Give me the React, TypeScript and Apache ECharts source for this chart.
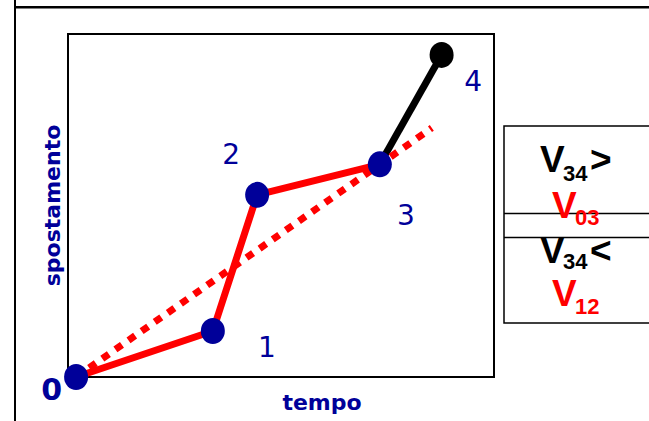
import React, { useEffect, useRef } from "react";
import * as echarts from "echarts";

// ---- data ----
const pointLabels = ["0", "1", "2", "3", "4"];
const timeValues = [0.19, 3.4, 4.44, 7.32, 8.77];
const displacementValues = [0, 1.34, 5.31, 6.2, 9.39];
// dotted "average" line: from point 0 through point 3, extended
const averageLineEndTime = 8.54;
const averageLineEndDisplacement = 7.26;
const xAxisName = "tempo";
const yAxisName = "spostamento";
const comparisonRows = [
  { base: "V", sub: "34", tail: ">" },
  { base: "V", sub: "03", tail: "" },
  { base: "V", sub: "34", tail: "<" },
  { base: "V", sub: "12", tail: "" },
];

// ---- styles / layout ----
const BLUE = "#000099";
const RED = "#ff0000";
const labelOffsets = [
  [-24.5, 12],
  [54, 16.5],
  [-26, -40],
  [26, 51.5],
  [31.5, 27],
];
const ELLIPSE = "path://M0,1A1,1 0 1,1 2,1A1,1 0 1,1 0,1Z";

export default function App() {
  const ref = useRef<HTMLDivElement>(null);

  useEffect(() => {
    if (!ref.current) return;
    const chart = echarts.init(ref.current, undefined, { renderer: "svg" });

    const pts = timeValues.map((t, i) => [t, displacementValues[i]]);

    // table text pieces
    const rowLayout = [
      { x: 540, y: 159.5, subY: 173, color: "#000000" },
      { x: 552, y: 205, subY: 217, color: RED },
      { x: 540, y: 250, subY: 261, color: "#000000" },
      { x: 552, y: 293, subY: 306, color: RED },
    ];
    const bigFont = "bold 37px 'Liberation Sans', Arial, sans-serif";
    const subFont = "bold 22px 'Liberation Sans', Arial, sans-serif";
    const tableTexts: any[] = [];
    comparisonRows.forEach((r, i) => {
      const l = rowLayout[i];
      tableTexts.push({
        type: "text",
        x: l.x,
        y: l.y,
        style: {
          text: r.base,
          fill: l.color,
          font: bigFont,
          lineHeight: 27,
          textAlign: "left",
          textVerticalAlign: "middle",
        },
      });
      tableTexts.push({
        type: "text",
        x: l.x + 23,
        y: l.subY,
        style: {
          text: r.sub,
          fill: l.color,
          font: subFont,
          lineHeight: 16,
          textAlign: "left",
          textVerticalAlign: "middle",
        },
      });
      if (r.tail) {
        tableTexts.push({
          type: "text",
          x: l.x + 50,
          y: l.y,
          style: {
            text: r.tail,
            fill: l.color,
            font: bigFont,
            lineHeight: 27,
            textAlign: "left",
            textVerticalAlign: "middle",
          },
        });
      }
    });

    const option: any = {
      animation: false,
      backgroundColor: "#ffffff",
      grid: {
        left: 68,
        top: 34,
        width: 426,
        height: 343,
        show: true,
        borderColor: "#000000",
        borderWidth: 2,
        backgroundColor: "transparent",
        outerBoundsMode: "none",
      },
      xAxis: {
        type: "value",
        min: 0,
        max: 10,
        axisLine: { show: false },
        axisTick: { show: false },
        axisLabel: { show: false },
        splitLine: { show: false },
        name: xAxisName,
        nameLocation: "middle",
        nameGap: 14,
        nameTextStyle: {
          color: BLUE,
          fontFamily: "DejaVu Sans",
          fontWeight: "bold",
          fontSize: 22,
          padding: [0, 0, 0, 82],
        },
      },
      yAxis: {
        type: "value",
        min: 0,
        max: 10,
        axisLine: { show: false },
        axisTick: { show: false },
        axisLabel: { show: false },
        splitLine: { show: false },
        name: yAxisName,
        nameLocation: "middle",
        nameRotate: 90,
        nameGap: 5,
        nameTextStyle: {
          color: BLUE,
          fontFamily: "DejaVu Sans",
          fontWeight: "bold",
          fontSize: 22,
        },
      },
      series: [
        {
          type: "line",
          data: pts.slice(0, 4),
          symbol: "none",
          clip: false,
          lineStyle: { color: RED, width: 7, join: "round" },
          z: 2,
        },
        {
          type: "line",
          data: pts.slice(3, 5),
          symbol: "none",
          clip: false,
          lineStyle: { color: "#000000", width: 7 },
          z: 3,
        },
        {
          type: "line",
          data: [pts[0], [averageLineEndTime, averageLineEndDisplacement]],
          symbol: "none",
          clip: false,
          lineStyle: { color: RED, width: 7, type: [8, 8], cap: "butt" },
          z: 4,
        },
        {
          type: "scatter",
          clip: false,
          z: 5,
          symbol: ELLIPSE,
          symbolSize: [24, 26],
          itemStyle: { opacity: 1 },
          data: pts.map((p, i) => ({
            value: p,
            itemStyle: { color: i === 4 ? "#000000" : BLUE, opacity: 1 },
            label: {
              offset: labelOffsets[i],
              fontWeight: i === 0 ? "bold" : "normal",
              fontSize: i === 0 ? 30 : 28,
            },
          })),
          label: {
            show: true,
            position: "inside",
            color: BLUE,
            opacity: 1,
            fontFamily: "DejaVu Sans",
            formatter: (p: any) => pointLabels[p.dataIndex],
          },
        },
      ],
      graphic: [
        {
          type: "line",
          shape: { x1: 15, y1: 0, x2: 15, y2: 421 },
          style: { stroke: "#000000", lineWidth: 2 },
        },
        {
          type: "line",
          shape: { x1: 15, y1: 7.3, x2: 649, y2: 7.3 },
          style: { stroke: "#000000", lineWidth: 2.5 },
        },
        {
          type: "rect",
          shape: { x: 504, y: 126, width: 160, height: 197 },
          style: { fill: "none", stroke: "#000000", lineWidth: 1.5 },
        },
        {
          type: "line",
          shape: { x1: 504, y1: 213.5, x2: 649, y2: 213.5 },
          style: { stroke: "#000000", lineWidth: 1.5 },
        },
        {
          type: "line",
          shape: { x1: 504, y1: 237.5, x2: 649, y2: 237.5 },
          style: { stroke: "#000000", lineWidth: 1.5 },
        },
        ...tableTexts,
      ],
    };

    chart.setOption(option);
    return () => chart.dispose();
  }, []);

  return (
    <div
      ref={ref}
      style={{ position: "fixed", left: 0, top: 0, width: 649, height: 421 }}
    />
  );
}
